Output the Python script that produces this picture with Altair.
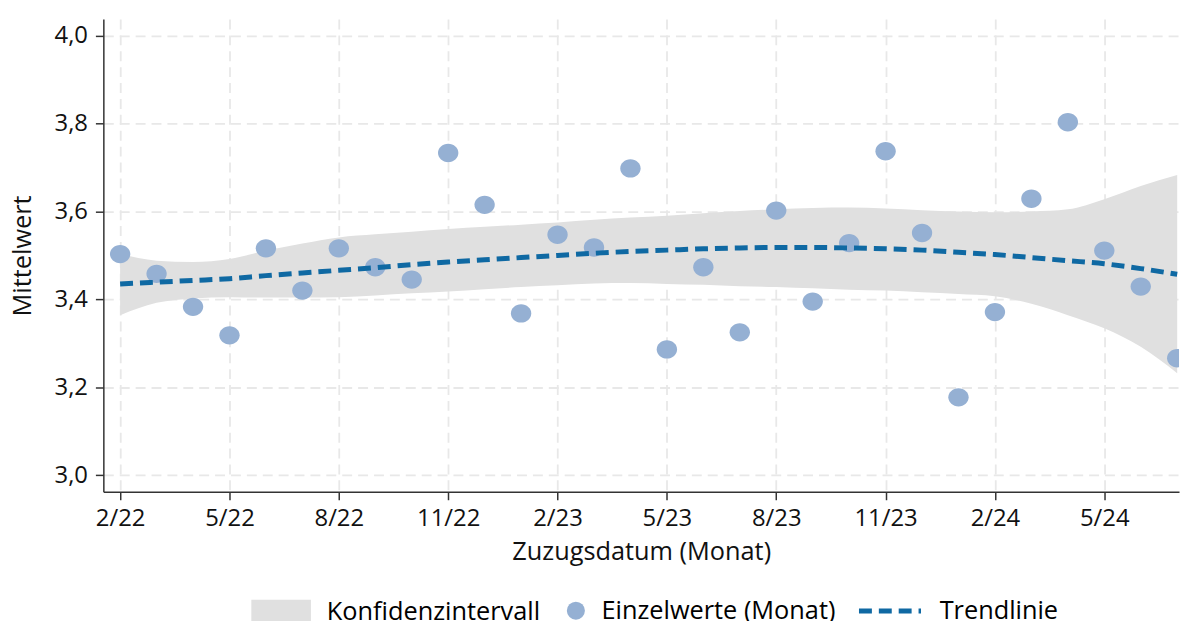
import altair as alt
import pandas as pd

# Month index 0 = 2/22 ... 29 = 7/24
months = ["2/22","3/22","4/22","5/22","6/22","7/22","8/22","9/22","10/22","11/22","12/22",
          "1/23","2/23","3/23","4/23","5/23","6/23","7/23","8/23","9/23","10/23","11/23","12/23",
          "1/24","2/24","3/24","4/24","5/24","6/24","7/24"]
month_idx = list(range(len(months)))

values = [3.503, 3.458, 3.383, 3.318, 3.516, 3.420, 3.516, 3.473, 3.445, 3.733,
          3.615, 3.368, 3.547, 3.518, 3.698, 3.286, 3.473, 3.325, 3.602, 3.395,
          3.528, 3.737, 3.551, 3.177, 3.371, 3.629, 3.803, 3.511, 3.429, 3.266]

trend = [3.435, 3.439, 3.443, 3.447, 3.454, 3.460, 3.466, 3.472, 3.479, 3.485,
         3.490, 3.495, 3.500, 3.505, 3.509, 3.512, 3.515, 3.517, 3.518, 3.518,
         3.517, 3.515, 3.512, 3.507, 3.502, 3.495, 3.488, 3.481, 3.470, 3.457]
ci_lower = [3.364, 3.392, 3.402, 3.405, 3.404, 3.404, 3.405, 3.409, 3.414, 3.418,
            3.423, 3.428, 3.432, 3.436, 3.437, 3.435, 3.433, 3.430, 3.428, 3.425,
            3.422, 3.420, 3.416, 3.412, 3.407, 3.390, 3.364, 3.334, 3.292, 3.232]
ci_upper = [3.503, 3.488, 3.485, 3.492, 3.511, 3.527, 3.541, 3.548, 3.554, 3.560,
            3.565, 3.570, 3.575, 3.581, 3.586, 3.590, 3.596, 3.601, 3.605, 3.608,
            3.609, 3.607, 3.603, 3.600, 3.598, 3.600, 3.605, 3.628, 3.658, 3.683]

tick_months = [0, 3, 6, 9, 12, 15, 18, 21, 24, 27]
tick_labels = [months[i] for i in tick_months]
y_ticks = [3.0, 3.2, 3.4, 3.6, 3.8, 4.0]

legend_ci = "Konfidenzintervall"
legend_pts = "Einzelwerte (Monat)"
legend_trend = "Trendlinie"

df = pd.DataFrame({
    "m": month_idx, "label": months, "wert": values,
    "trend": trend, "lo": ci_lower, "hi": ci_upper,
    "k": legend_ci, "p": legend_pts, "t": legend_trend,
})

FONT = "Open Sans"
FS = 24
FS_T = 25.5
label_js = "[" + ",".join("'" + s + "'" for s in tick_labels) + "]"

x_enc = alt.X("m:Q",
    scale=alt.Scale(domain=[-0.46, 29.05], nice=False, zero=False),
    axis=alt.Axis(values=tick_months, labelExpr=label_js + "[round(datum.value/3)]",
                  title="Zuzugsdatum (Monat)", grid=True, labelPadding=7, titlePadding=9))
y_scale = alt.Scale(domain=[2.962, 4.038], nice=False, zero=False)
y_axis = alt.Axis(values=y_ticks, labelExpr="replace(format(datum.value, '.1f'), '.', ',')",
                  title="Mittelwert", grid=True, labelPadding=8, titlePadding=19)

legend_common = dict(orient="none", title=None, labelFont=FONT, labelFontSize=FS_T,
                     labelColor="#000000", direction="horizontal", labelLimit=0)

band = alt.Chart(df).mark_area(interpolate="monotone", opacity=1).encode(
    x=x_enc,
    y=alt.Y("lo:Q", scale=y_scale, axis=y_axis),
    y2="hi:Q",
    fill=alt.Fill("k:N", scale=alt.Scale(domain=[legend_ci], range=["#e0e0e0"]),
                  legend=alt.Legend(legendX=159, legendY=577,
                                    symbolType="M-1.5,-0.62H1.5V0.62H-1.5Z", symbolSize=1600,
                                    symbolStrokeWidth=0, labelOffset=26, **legend_common)),
)

points = alt.Chart(df).mark_point(
    filled=True, opacity=1, size=420, clip=True,
    shape="M-1,0A1,0.9 0 1,1 1,0A1,0.9 0 1,1 -1,0Z",
).encode(
    x=alt.X("m:Q"),
    y=alt.Y("wert:Q"),
    color=alt.Color("p:N", scale=alt.Scale(domain=[legend_pts], range=["#95b0d3"]),
                    legend=alt.Legend(legendX=463, legendY=583, symbolType="circle",
                                      symbolSize=330, labelOffset=13, **legend_common)),
)

line = alt.Chart(df).mark_line(interpolate="monotone", strokeWidth=5, color="#0f69a3").encode(
    x=alt.X("m:Q"),
    y=alt.Y("trend:Q"),
    strokeDash=alt.StrokeDash("t:N", scale=alt.Scale(domain=[legend_trend], range=[[13, 7]]),
                              legend=alt.Legend(legendX=758, legendY=562, symbolType="stroke",
                                                symbolSize=3900, symbolStrokeWidth=5,
                                                symbolStrokeColor="#0f69a3",
                                                labelOffset=16, **legend_common)),
)

chart = alt.layer(band, points, line).properties(
    width=1083, height=476,
    autosize=alt.AutoSizeParams(type="none"),
    padding={"left": 96, "top": 9, "right": 3, "bottom": 128},
).configure_view(stroke=None).configure_axis(
    labelFont=FONT, labelFontSize=FS, labelColor="#111111",
    titleFont=FONT, titleFontSize=FS_T, titleFontWeight="normal", titleColor="#111111",
    domainColor="#333333", domainWidth=1.5, tickColor="#333333", tickWidth=1.5, tickSize=8,
    gridColor="#e8e8e8", gridDash=[10, 6], gridWidth=1.8,
)

chart.save("out.html", embed_options={"renderer": "svg", "actions": False})
